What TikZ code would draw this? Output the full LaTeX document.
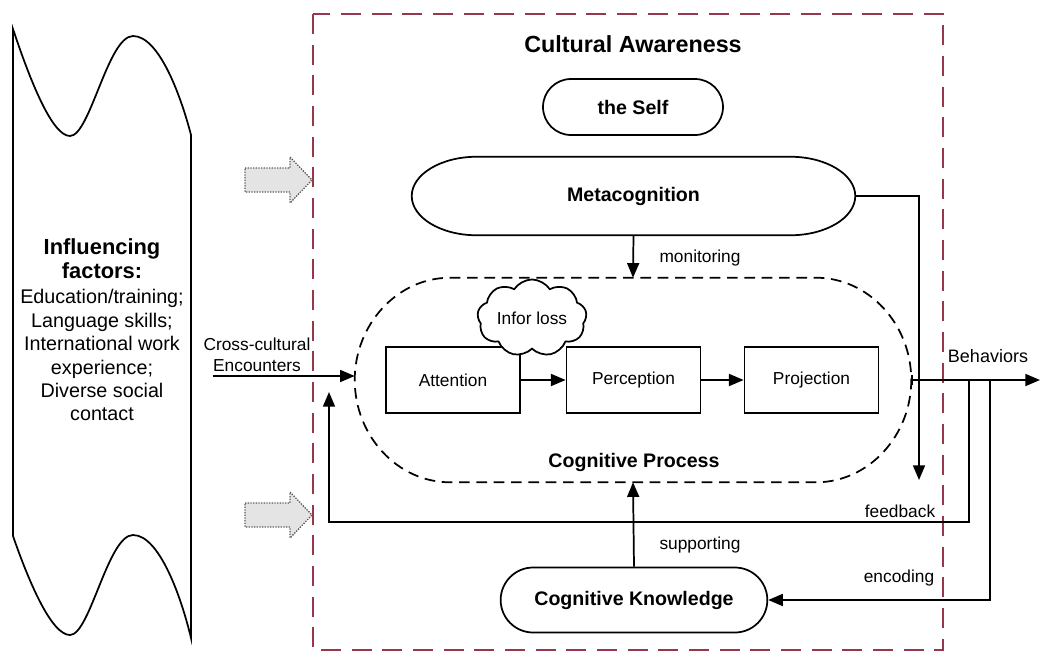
\documentclass[tikz,border=0pt]{standalone}
\usepackage{fontspec}
\setmainfont{Liberation Sans}
\usetikzlibrary{arrows.meta,shapes.misc,shapes.symbols,calc}
\definecolor{awred}{RGB}{150,55,75}
\definecolor{blockgray}{RGB}{228,228,228}
\begin{document}
\begin{tikzpicture}[x=0.75pt,y=-0.75pt,
  line/.style={line width=1.3pt},
  arr/.style={line width=1.3pt,-{Triangle[length=11pt,width=9pt]}},
  lbl/.style={font=\fontsize{13pt}{15.6pt}\selectfont,inner sep=0pt},
  blbl/.style={font=\fontsize{14.7pt}{17pt}\selectfont\bfseries,inner sep=0pt},
  stagebox/.style={draw,line width=1.3pt,minimum width=100.5pt,minimum height=49.5pt,inner sep=0pt,font=\fontsize{13pt}{15.6pt}\selectfont},
  pillnode/.style={draw,line width=1.3pt,rounded rectangle,inner sep=0pt,font=\fontsize{14.7pt}{17pt}\selectfont\bfseries},
  blockarrow/.style={draw=gray!70!black,densely dotted,line width=1pt,fill=blockgray}
]
\useasboundingbox (0,0) rectangle (1040,658);

% outer awareness frame
\draw[awred,line width=1.4pt,dash pattern=on 15pt off 8pt] (313,14) rectangle (943,650);

% influencing factors tape
\draw[line] (13,29) .. controls (30,80) and (52,136) .. (70,136)
  .. controls (90,136) and (108,36) .. (133,36)
  .. controls (160,36) and (182,100) .. (191,135)
  -- (191,638)
  .. controls (182,600) and (160,535) .. (133,535)
  .. controls (108,535) and (90,635) .. (70,635)
  .. controls (52,635) and (30,585) .. (13,536) -- cycle;
\node[align=center,inner sep=0pt,font=\fontsize{14.8pt}{17.6pt}\selectfont] (infl) at (102,330)
  {\fontsize{16.4pt}{18pt}\selectfont\bfseries Influencing\\
   \fontsize{16.4pt}{18pt}\selectfont\bfseries factors:\\[1.5pt]
   Education/training;\\ Language skills;\\ International work\\ experience;\\ Diverse social\\ contact};

% block arrows
\draw[blockarrow] (245,168) -- (290,168) -- (290,157) -- (312,180) -- (290,203) -- (290,192) -- (245,192) -- cycle;
\draw[blockarrow] (245,503) -- (290,503) -- (290,492) -- (312,515) -- (290,538) -- (290,527) -- (245,527) -- cycle;

% title and self
\node[inner sep=0pt,font=\fontsize{17.5pt}{20pt}\selectfont\bfseries] (title) at (633,44) {Cultural Awareness};
\node[pillnode,minimum width=135pt,minimum height=42pt] (self) at (633,107) {the Self};

% metacognition
\node[minimum width=332.25pt,minimum height=58.5pt,inner sep=0pt,blbl] (meta) at (633.5,196) {Metacognition};
\draw[line] ($(meta.north west)+(65,0)$) -- ($(meta.north east)+(-65,0)$)
  .. controls +(36,0) and +(0,-21.5) .. (meta.east)
  .. controls +(0,21.5) and +(36,0) .. ($(meta.south east)+(-65,0)$)
  -- ($(meta.south west)+(65,0)$)
  .. controls +(-36,0) and +(0,21.5) .. (meta.west)
  .. controls +(0,-21.5) and +(-36,0) .. ($(meta.north west)+(65,0)$) -- cycle;

% cognitive process
\node[minimum width=417pt,minimum height=153pt,inner sep=0pt] (cp) at (633,380) {};
\draw[line width=1.3pt,dash pattern=on 8pt off 5pt]
  ($(cp.north west)+(95,0)$) -- ($(cp.north east)+(-95,0)$)
  .. controls +(52,0) and +(0,-56) .. (cp.east)
  .. controls +(0,56) and +(52,0) .. ($(cp.south east)+(-95,0)$)
  -- ($(cp.south west)+(95,0)$)
  .. controls +(-52,0) and +(0,56) .. (cp.west)
  .. controls +(0,-56) and +(-52,0) .. ($(cp.north west)+(95,0)$) -- cycle;
\node[blbl] (cptext) at (634,462) {Cognitive Process};

\node[stagebox] (att) at (453,380) {Attention};
\node[stagebox] (per) at (633.5,380) {Perception};
\node[stagebox] (pro) at (811.5,380) {Projection};
\node[cloud,draw,fill=white,line width=1.3pt,cloud puffs=9,cloud puff arc=115,aspect=1.6,
      minimum width=82pt,minimum height=50pt,inner sep=0pt,lbl] (cloud) at (532,318) {Infor loss};
\draw[arr] (att) -- (per);
\draw[arr] (per) -- (pro);

% cognitive knowledge
\node[pillnode,minimum width=200pt,minimum height=48.75pt] (ck) at (634,600) {Cognitive Knowledge};

% connectors
\draw[arr] (meta.south) -- (cp.north);
\node[lbl] (mon) at (700,258) {monitoring};

\coordinate (metaend) at (919,480);
\draw[arr] (meta.east) -| (metaend);

\coordinate (ccstart) at (213,376);
\draw[arr] (ccstart) -- (ccstart -| cp.west);
\node[lbl,align=center] (cc) at (257,355) {Cross-cultural\\Encounters};

\coordinate (behend) at (1040,380);
\draw[line width=1.3pt,{Bar[width=7pt,line width=1pt]}-{Triangle[length=11pt,width=9pt]}] (cp.east) -- (behend);
\node[lbl,font=\fontsize{13.5pt}{16pt}\selectfont] (beh) at (988,356) {Behaviors};

\coordinate (fb1) at (969,380);
\coordinate (fb2) at (329,522);
\coordinate (fb3) at (329,392);
\draw[arr] (fb1) |- (fb2) -- (fb3);
\node[lbl] (fbl) at (900,511) {feedback};

\coordinate (enc1) at (990,380);
\draw[arr] (enc1) |- (ck.east);
\node[lbl] (encl) at (899,578) {encoding};

\draw[arr] (ck.north) -- (cp.south);
\node[lbl] (sup) at (700,545) {supporting};
\end{tikzpicture}
\end{document}
